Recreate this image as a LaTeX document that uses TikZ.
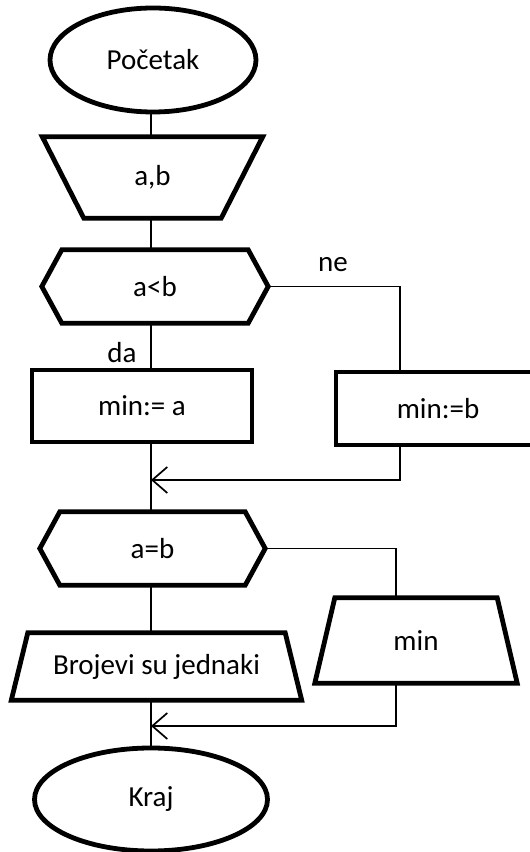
\documentclass[tikz,border=0pt]{standalone}
\usepackage{fontspec}
\setmainfont{Carlito}
\usetikzlibrary{shapes.geometric,arrows.meta,calc}
\begin{document}
\begin{tikzpicture}[x=1pt,y=1pt,
  txt/.style={inner sep=0pt, font=\fontsize{29}{32}\selectfont},
  box/.style={txt, draw, line width=4.8pt},
  shp/.style={draw, line width=4.8pt, line join=miter},
  con/.style={line width=1.7pt},
  arr/.style={con, -{Straight Barb[length=15pt,width=26pt,line width=1.7pt]}}]
\useasboundingbox (0,0) rectangle (530,852);
\coordinate (col) at (151,0);
\coordinate (r1) at (400,0);
\coordinate (r2) at (396,0);
\coordinate (j1) at (151,372);
\coordinate (j2) at (151,126);
% start
\node[box, ellipse, minimum width=206pt, minimum height=104pt] (start) at (153,792) {Početak};
% input a,b
\node[txt, minimum width=137pt, minimum height=81pt] (in) at (152.5,674.5) {a,b};
\draw[shp] ([xshift=-41.5pt]in.north west) -- ([xshift=41.5pt]in.north east) -- (in.south east) -- (in.south west) -- cycle;
% decision a<b
\node[txt, minimum width=226pt, minimum height=73pt] (c1) at (155,565.5) {a<b};
\draw[shp] (c1.west) -- ([xshift=20pt]c1.north west) -- ([xshift=-20pt]c1.north east) -- (c1.east) -- ([xshift=-20pt]c1.south east) -- ([xshift=20pt]c1.south west) -- cycle;
% assignments
\node[box, minimum width=220pt, minimum height=72pt] (mina) at (142,446) {min:= a};
\node[box, minimum width=204pt, minimum height=73pt] (minb) at (438,443.5) {min:=b};
% decision a=b
\node[txt, minimum width=225pt, minimum height=73pt] (c2) at (152.5,303.5) {a=b};
\draw[shp] (c2.west) -- ([xshift=20pt]c2.north west) -- ([xshift=-20pt]c2.north east) -- (c2.east) -- ([xshift=-20pt]c2.south east) -- ([xshift=20pt]c2.south west) -- cycle;
% output min
\node[txt, minimum width=162pt, minimum height=85pt] (out) at (416,211.5) {min};
\draw[shp] (out.north west) -- (out.north east) -- ([xshift=20pt]out.south east) -- ([xshift=-20pt]out.south west) -- cycle;
% output Brojevi su jednaki
\node[txt, minimum width=257pt, minimum height=67pt] (bro) at (156.5,185.5) {Brojevi su jednaki};
\draw[shp] (bro.north west) -- (bro.north east) -- ([xshift=16.5pt]bro.south east) -- ([xshift=-16.5pt]bro.south west) -- cycle;
% end
\node[box, ellipse, minimum width=233pt, minimum height=103pt] (kraj) at (151,52.5) {Kraj};
% labels
\node[txt] (da) at (122,499) {da};
\node[txt] (ne) at (333,587) {ne};
% connectors
\draw[con] (start.south -| col) -- (in.north -| col);
\draw[con] (in.south -| col) -- (c1.north -| col);
\draw[con] (c1.south -| col) -- (mina.north -| col);
\draw[con] (c1.east) -| (minb.north -| r1);
\draw[con] (mina.south -| col) -- (c2.north -| col);
\draw[arr] (minb.south -| r1) |- (j1);
\draw[con] (c2.south -| col) -- (bro.north -| col);
\draw[con] (c2.east) -| (out.north -| r2);
\draw[con] (bro.south -| col) -- (kraj.north);
\draw[arr] (out.south -| r2) |- (j2);
\end{tikzpicture}
\end{document}
